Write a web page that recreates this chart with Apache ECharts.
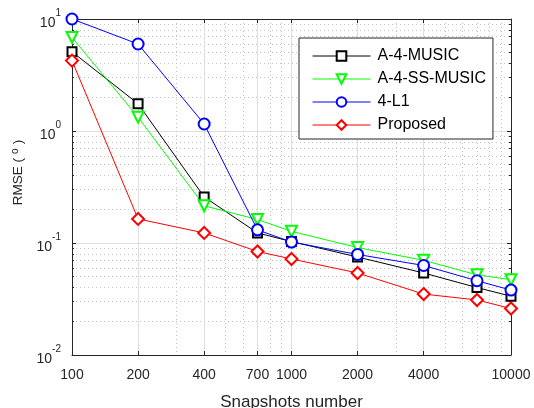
<!DOCTYPE html>
<html>
<head>
<meta charset="utf-8">
<script src="https://cdn.jsdelivr.net/npm/echarts@6/dist/echarts.min.js"></script>
<style>
  html, body { margin: 0; padding: 0; background: #fff; }
  #chart { width: 534px; height: 408px; }
</style>
</head>
<body>
<div id="chart"></div>
<script>
// snapshots on the x axis
const snapshots = [100, 200, 400, 700, 1000, 2000, 4000, 7000, 10000]
// RMSE per method
const music = [5.1, 1.75, 0.258, 0.123, 0.103, 0.075, 0.054, 0.040, 0.0335]
const ssMusic = [6.85, 1.33, 0.215, 0.162, 0.127, 0.091, 0.070, 0.052, 0.047]
const l1 = [10.0, 5.98, 1.155, 0.131, 0.102, 0.079, 0.063, 0.046, 0.038]
const proposed = [4.25, 0.164, 0.123, 0.084, 0.072, 0.054, 0.035, 0.031, 0.026]
const seriesNames = ['A-4-MUSIC', 'A-4-SS-MUSIC', '4-L1', 'Proposed']

const xTicks = [100, 200, 400, 700, 1000, 2000, 4000, 10000]
const xMinor = [300, 500, 600, 800, 900, 3000, 5000, 6000, 7000, 8000, 9000]
const yTicks = [0.01, 0.1, 1, 10]
const yMinor = []
for (const d of [0.01, 0.1, 1]) {
  for (let k = 2; k <= 9; k++) yMinor.push(+(d * k).toPrecision(3))
}

const font = 'Liberation Sans, Arial, Helvetica, sans-serif'
const axisCol = '#262626'
const zip = ys => snapshots.map((x, i) => [x, ys[i]])

const chart = echarts.init(document.getElementById('chart'))

const baseX = { type: 'log', logBase: 10, min: 100, max: 10000, gridIndex: 0 }
const baseY = { type: 'log', logBase: 10, min: 0.01, max: 10, gridIndex: 0 }

function line(name, ys, color, symbol, size, rotate) {
  return {
    name, type: 'line', data: zip(ys),
    xAxisIndex: 0, yAxisIndex: 0,
    symbol, symbolSize: size, symbolRotate: rotate || 0,
    showSymbol: true,
    lineStyle: { color, width: 1 },
    itemStyle: { color, borderColor: color, borderWidth: 1 },
    emphasis: { disabled: true },
    animation: false
  }
}

chart.setOption({
  animation: false,
  textStyle: { fontFamily: font },
  grid: { left: 72, right: 23, top: 19, bottom: 53, outerBoundsMode: 'none', containLabel: false },
  legend: {
    data: seriesNames,
    orient: 'vertical',
    left: 299, top: 38,
    padding: [10, 7, 6, 13],
    itemWidth: 58, itemHeight: 12, itemGap: 7,
    backgroundColor: '#fff',
    borderColor: '#262626', borderWidth: 1,
    itemStyle: { borderWidth: 1 },
    lineStyle: { width: 1 },
    textStyle: { fontSize: 16, lineHeight: 16, color: '#000', fontFamily: font, padding: [0, 0, 0, 2] }
  },
  xAxis: [
    {
      ...baseX,
      position: 'bottom',
      name: 'Snapshots number',
      nameLocation: 'middle', nameGap: 39,
      nameTextStyle: { fontSize: 17, color: axisCol },
      axisLine: { show: true, lineStyle: { color: axisCol } },
      axisTick: { show: true, inside: true, length: 4, customValues: xTicks, lineStyle: { color: axisCol } },
      axisLabel: { customValues: xTicks, fontSize: 14, color: axisCol, margin: 13, formatter: v => String(Math.round(v)) },
      splitLine: { show: true, lineStyle: { color: '#dedede', width: 1 } }
    },
    {
      ...baseX,
      position: 'bottom',
      axisLine: { show: false },
      axisTick: { show: false, customValues: xMinor },
      axisLabel: { show: false, customValues: xMinor },
      splitLine: { show: true, lineStyle: { color: '#c4c4c4', width: 1, type: [1, 3] } }
    },
    {
      ...baseX,
      position: 'top',
      axisLine: { show: true, onZero: false, lineStyle: { color: axisCol } },
      axisTick: { show: true, inside: true, length: 4, customValues: xTicks, lineStyle: { color: axisCol } },
      axisLabel: { show: false },
      splitLine: { show: false }
    }
  ],
  yAxis: [
    {
      ...baseY,
      position: 'left',
      name: '{a|RMSE (}{s|o}{a|)}',
      nameLocation: 'middle', nameGap: 40,
      nameTextStyle: {
        color: axisCol, padding: [0, 0, 0, 29],
        rich: {
          a: { fontSize: 13.5, color: axisCol, fontFamily: font },
          s: { fontSize: 10, color: axisCol, fontFamily: font, padding: [0, 4, 7, 4] }
        }
      },
      axisLine: { show: true, lineStyle: { color: axisCol } },
      axisTick: { show: true, inside: true, length: 4, customValues: yTicks, lineStyle: { color: axisCol } },
      axisLabel: {
        customValues: yTicks, margin: 11,
        formatter: v => '{b|10}{s|' + Math.round(Math.log10(v)) + '}',
        rich: {
          b: { fontSize: 14, lineHeight: 16, color: axisCol, fontFamily: font, padding: [8, 0, 0, 0] },
          s: { fontSize: 10, lineHeight: 12, color: axisCol, fontFamily: font, padding: [0, 0, 12, 0] }
        }
      },
      splitLine: { show: true, lineStyle: { color: '#dedede', width: 1 } }
    },
    {
      ...baseY,
      position: 'left',
      axisLine: { show: false },
      axisTick: { show: true, inside: true, length: 2, customValues: yMinor, lineStyle: { color: axisCol } },
      axisLabel: { show: false, customValues: yMinor },
      splitLine: { show: true, lineStyle: { color: '#c4c4c4', width: 1, type: [1, 3] } }
    },
    {
      ...baseY,
      position: 'right',
      axisLine: { show: true, onZero: false, lineStyle: { color: axisCol } },
      axisTick: { show: true, inside: true, length: 4, customValues: yTicks, lineStyle: { color: axisCol } },
      axisLabel: { show: false },
      splitLine: { show: false }
    },
    {
      ...baseY,
      position: 'right',
      axisLine: { show: false },
      axisTick: { show: true, inside: true, length: 2, customValues: yMinor, lineStyle: { color: axisCol } },
      axisLabel: { show: false },
      splitLine: { show: false }
    }
  ],
  series: [
    line(seriesNames[0], music, '#000000', 'emptyRect', 9),
    line(seriesNames[1], ssMusic, '#00ff00', 'emptyTriangle', 11, 180),
    line(seriesNames[2], l1, '#0000ff', 'emptyCircle', 11),
    line(seriesNames[3], proposed, '#ff0000', 'emptyDiamond', 12)
  ]
})
</script>
</body>
</html>
